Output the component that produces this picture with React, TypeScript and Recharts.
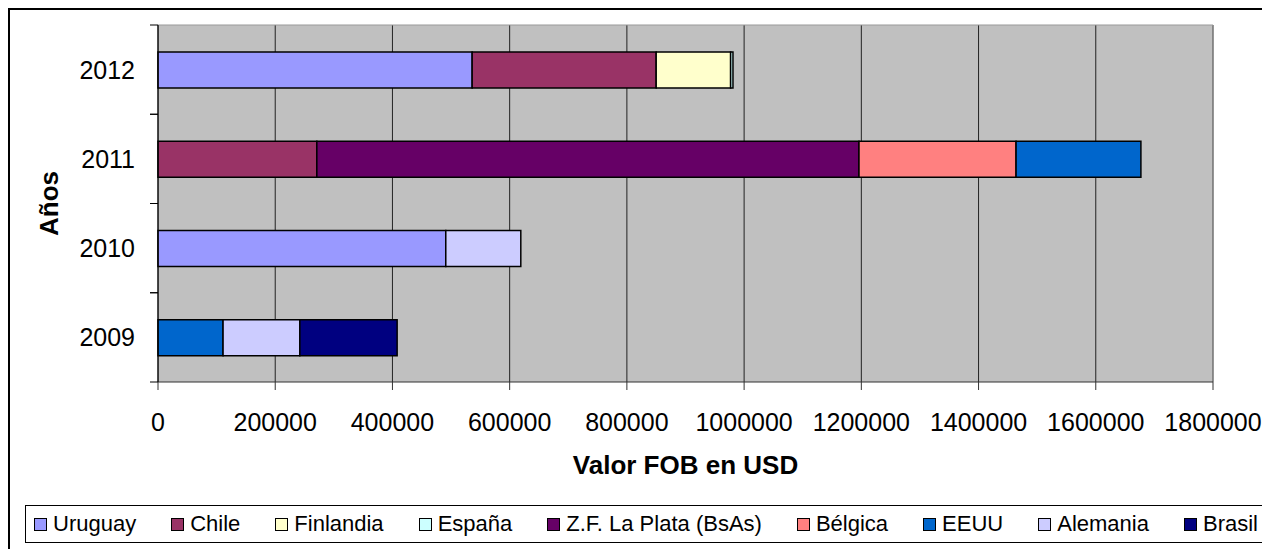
import React from 'react';
import { BarChart, Bar, XAxis, YAxis, CartesianGrid, ReferenceLine } from 'recharts';

const years = ['2009', '2010', '2011', '2012'];
const uruguay = [0, 491000, 0, 536000];
const chile = [0, 0, 271000, 314000];
const finlandia = [0, 0, 0, 127000];
const espana = [0, 0, 0, 4000];
const zfLaPlata = [0, 0, 925000, 0];
const belgica = [0, 0, 268000, 0];
const eeuu = [111000, 0, 213000, 0];
const alemania = [131000, 128000, 0, 0];
const brasil = [166000, 0, 0, 0];
const xTicks = [0, 200000, 400000, 600000, 800000, 1000000, 1200000, 1400000, 1600000, 1800000];

const series = [
  { key: 'Uruguay', values: uruguay, color: '#9999FF' },
  { key: 'Chile', values: chile, color: '#993366' },
  { key: 'Finlandia', values: finlandia, color: '#FFFFCC' },
  { key: 'España', values: espana, color: '#CCFFFF' },
  { key: 'Z.F. La Plata (BsAs)', values: zfLaPlata, color: '#660066' },
  { key: 'Bélgica', values: belgica, color: '#FF8080' },
  { key: 'EEUU', values: eeuu, color: '#0066CC' },
  { key: 'Alemania', values: alemania, color: '#CCCCFF' },
  { key: 'Brasil', values: brasil, color: '#000080' },
];

const data = years.map((y, i) => {
  const row: Record<string, string | number> = { year: y };
  series.forEach((s) => {
    row[s.key] = s.values[i];
  });
  return row;
});

const FONT = '"Liberation Sans", Arial, sans-serif';
const Y_TICK_MARGIN = 15;
const Y_TICK_SIZE = 8;

const YTick = (props: any) => {
  const { x, y, payload } = props;
  const half = typeof payload?.offset === 'number' ? payload.offset : 0;
  const lx1 = x + Y_TICK_MARGIN;
  const lx2 = lx1 + Y_TICK_SIZE;
  return (
    <g>
      <text x={x} y={y} dy="0.355em" textAnchor="end" fontSize={25} fill="#000" fontFamily={FONT}>
        {payload.value}
      </text>
      <line x1={lx1} x2={lx2} y1={y - half} y2={y - half} stroke="#000" />
      <line x1={lx1} x2={lx2} y1={y + half} y2={y + half} stroke="#000" />
    </g>
  );
};

export default function App() {
  return (
    <div style={{ position: 'relative', width: 1262, height: 541, fontFamily: FONT }}>
      <div style={{ position: 'absolute', left: 0, top: 0, width: 1262, height: 2, background: '#000' }} />
      <div style={{ position: 'absolute', left: 0, top: 0, width: 2, height: 541, background: '#000' }} />
      <BarChart
        width={1262}
        height={541}
        data={data}
        layout="vertical"
        margin={{ top: 17, right: 57, bottom: 67, left: 0 }}
        barSize={36}
        style={{ fontFamily: FONT }}
      >
        <CartesianGrid horizontal={false} stroke="#222" fill="#C0C0C0" fillOpacity={1} />
        <CartesianGrid
          vertical={false}
          stroke="#999"
          horizontalCoordinatesGenerator={(args: any) => [args.offset.top]}
        />
        <XAxis
          type="number"
          domain={[0, 1800000]}
          ticks={xTicks}
          interval={0}
          tickSize={8}
          tickMargin={23}
          stroke="#333"
          tick={{ fill: '#000', fontSize: 25 }}
          height={100}
          label={{
            content: (props: any) => {
              const vb = props.viewBox;
              return (
                <text
                  x={vb.x + vb.width / 2}
                  y={466}
                  textAnchor="middle"
                  fontSize={26}
                  fontWeight="bold"
                  fill="#000"
                >
                  Valor FOB en USD
                </text>
              );
            },
          }}
        />
        <YAxis
          type="category"
          dataKey="year"
          reversed
          width={150}
          tickLine={false}
          tickSize={Y_TICK_SIZE}
          tickMargin={Y_TICK_MARGIN}
          stroke="#000"
          interval={0}
          tick={<YTick />}
          label={{
            content: (props: any) => {
              const vb = props.viewBox;
              const cy = vb.y + vb.height / 2;
              return (
                <text
                  x={50}
                  y={cy}
                  transform={`rotate(-90 50 ${cy})`}
                  textAnchor="middle"
                  fontSize={26}
                  fontWeight="bold"
                  fill="#000"
                >
                  Años
                </text>
              );
            },
          }}
        />
        <ReferenceLine x={1800000} stroke="#999" />
        {series.map((s) => (
          <Bar
            key={s.key}
            dataKey={s.key}
            stackId="a"
            fill={s.color}
            stroke="#000"
            strokeWidth={1.5}
            isAnimationActive={false}
          />
        ))}
      </BarChart>
      <div
        style={{
          position: 'absolute',
          left: 17,
          top: 497,
          width: 1242,
          height: 38,
          border: '1.5px solid #000',
          boxSizing: 'border-box',
          display: 'flex',
          alignItems: 'center',
          justifyContent: 'space-between',
          padding: '0 8px 0 8px',
          fontSize: 22,
          color: '#000',
        }}
      >
        {series.map((s) => (
          <div key={s.key} style={{ display: 'flex', alignItems: 'center', whiteSpace: 'nowrap' }}>
            <span
              style={{
                display: 'inline-block',
                width: 11,
                height: 11,
                background: s.color,
                border: '1px solid #000',
                marginRight: 6,
              }}
            />
            <span>{s.key}</span>
          </div>
        ))}
      </div>
    </div>
  );
}
